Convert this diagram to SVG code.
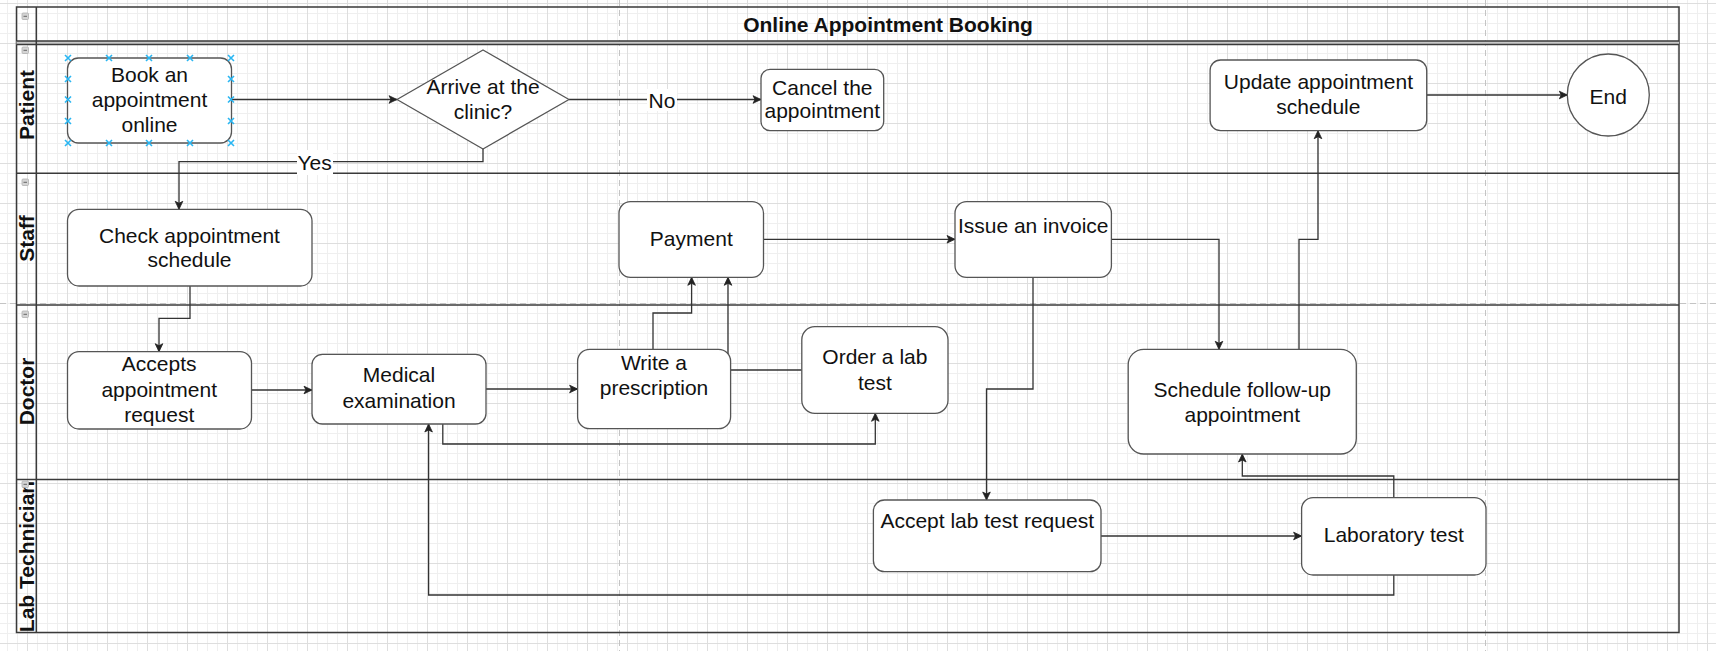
<svg xmlns="http://www.w3.org/2000/svg" width="1716" height="651" viewBox="0 0 1716 651">
  <defs>
    <pattern id="grid" patternUnits="userSpaceOnUse" x="7" y="3" width="40" height="40">
      <path d="M0.5,0V40M10.5,0V40M30.5,0V40M0,10.5H40M0,20.5H40M0,30.5H40" stroke="#efefef" stroke-width="1" fill="none"/>
      <path d="M20.5,0V40M0,0.5H40" stroke="#dedede" stroke-width="1" fill="none"/>
    </pattern>
    <marker id="arr" markerUnits="userSpaceOnUse" markerWidth="10" markerHeight="10" viewBox="0 0 10 10" refX="9" refY="5" orient="auto">
      <path d="M1,1.2 L9,5 L1,8.8 L3,5 Z" fill="#222" stroke="#222" stroke-width="0.8"/>
    </marker>
  </defs>
  <style>
    .node { fill: #ffffff; stroke: #555555; stroke-width: 1.3; }
    .txt { font-family: "Liberation Sans", Arial, sans-serif; font-size: 21px; fill: #111111; text-anchor: middle; }
    .lane { font-family: "Liberation Sans", Arial, sans-serif; font-size: 21px; font-weight: bold; fill: #111111; text-anchor: middle; }
    .title { font-family: "Liberation Sans", Arial, sans-serif; font-size: 21px; font-weight: bold; fill: #111111; text-anchor: middle; }
    .edge { fill: none; stroke: #333333; stroke-width: 1.3; }
    .pool { fill: none; stroke: #3a3a3a; stroke-width: 1.5; }
    .brk { fill: none; stroke: #c4c4c4; stroke-width: 1; stroke-dasharray: 6 4; }
    .icon { fill: #d4d4d4; stroke: #b0b0b0; stroke-width: 0.8; }
    .handle { stroke: #29b6f2; stroke-width: 1.6; fill: none; }
    .lbl { fill: #ffffff; stroke: none; }
  </style>

  <rect x="0" y="0" width="1716" height="651" fill="#ffffff"/>
  <rect x="0" y="0" width="1716" height="651" fill="url(#grid)"/>

  <!-- page breaks -->
  <g id="page-breaks">
    <path class="brk" d="M619.5,0V651M1485.5,0V651M0,303.5H1716"/>
  </g>

  <!-- pool and lanes -->
  <g id="pool">
    <rect class="pool" x="16.5" y="7" width="1662.5" height="625.5"/>
    <rect x="16.5" y="41" width="1662.5" height="3.5" fill="#c8c8c8" stroke="none"/>
    <path class="pool" d="M16.5,41H1679M16.5,44.5H1679"/>
    <path class="pool" d="M36.3,7V632.5"/>
    <text class="title" x="888" y="31.5">Online Appointment Booking</text>
    <rect class="icon" x="22" y="13" width="6.5" height="6.5" rx="1"/>
    <path d="M23.5,16.3H27" stroke="#666" stroke-width="1"/>
  </g>
  <g id="lane-patient">
    <path class="pool" d="M16.5,173.3H1679"/>
    <text class="lane" transform="translate(33.5,105) rotate(-90)">Patient</text>
    <rect class="icon" x="22" y="47" width="6.5" height="6.5" rx="1"/>
    <path d="M23.5,50.3H27" stroke="#666" stroke-width="1"/>
  </g>
  <g id="lane-staff">
    <path class="pool" d="M16.5,305H1679"/>
    <text class="lane" transform="translate(33.5,238.5) rotate(-90)">Staff</text>
    <rect class="icon" x="22" y="179" width="6.5" height="6.5" rx="1"/>
    <path d="M23.5,182.3H27" stroke="#666" stroke-width="1"/>
  </g>
  <g id="lane-doctor">
    <path class="pool" d="M16.5,479.5H1679"/>
    <text class="lane" transform="translate(33.5,391.5) rotate(-90)">Doctor</text>
    <rect class="icon" x="22" y="311" width="6.5" height="6.5" rx="1"/>
    <path d="M23.5,314.3H27" stroke="#666" stroke-width="1"/>
  </g>
  <g id="lane-lab">
    <text class="lane" transform="translate(33.5,556.5) rotate(-90)">Lab Technician</text>
    <rect class="icon" x="22" y="481" width="6.5" height="6.5" rx="1"/>
    <path d="M23.5,484.3H27" stroke="#666" stroke-width="1"/>
  </g>

  <!-- connectors -->
  <g id="connectors">
    <path class="edge" marker-end="url(#arr)" d="M231.5,99.5H397"/>
    <path class="edge" marker-end="url(#arr)" d="M569,99.5H761"/>
    <path class="edge" marker-end="url(#arr)" d="M483,149V161.7H179V209.3"/>
    <path class="edge" marker-end="url(#arr)" d="M190,286V318.3H159V351.7"/>
    <path class="edge" marker-end="url(#arr)" d="M251.4,390H312"/>
    <path class="edge" marker-end="url(#arr)" d="M486,389H577.6"/>
    <path class="edge" marker-end="url(#arr)" d="M653,349.3V313H691.6V277.3"/>
    <path class="edge" marker-end="url(#arr)" d="M801.8,370H728V277.3"/>
    <path class="edge" marker-end="url(#arr)" d="M442.8,424V444H875.3V413.3"/>
    <path class="edge" marker-end="url(#arr)" d="M763.5,239.3H955"/>
    <path class="edge" marker-end="url(#arr)" d="M1033,277.3V389H986.5V500"/>
    <path class="edge" marker-end="url(#arr)" d="M1111.4,239.3H1219V349.3"/>
    <path class="edge" marker-end="url(#arr)" d="M1299,349.3V239.3H1318V130.7"/>
    <path class="edge" marker-end="url(#arr)" d="M1426.7,95H1567.3"/>
    <path class="edge" marker-end="url(#arr)" d="M1101,536H1301.6"/>
    <path class="edge" marker-end="url(#arr)" d="M1393.8,497.7V476H1242.3V454"/>
    <path class="edge" marker-end="url(#arr)" d="M1393.8,575V595H428.6V424"/>
    <rect class="lbl" x="297" y="150" width="36" height="25"/>
    <text class="txt" x="314.6" y="169.5">Yes</text>
    <rect class="lbl" x="647" y="89" width="30" height="22"/>
    <text class="txt" x="662" y="107.5">No</text>
  </g>

  <!-- nodes -->
  <g id="book">
    <rect class="node" x="67.5" y="58" width="164" height="85" rx="11"/>
    <text class="txt" x="149.5" y="81.7">Book an</text>
    <text class="txt" x="149.5" y="106.7">appointment</text>
    <text class="txt" x="149.5" y="131.7">online</text>
    <path class="handle" d="M65,55l6,6m0,-6l-6,6 M106,55l6,6m0,-6l-6,6 M146,55l6,6m0,-6l-6,6 M187,55l6,6m0,-6l-6,6 M228,55l6,6m0,-6l-6,6 M65,140l6,6m0,-6l-6,6 M106,140l6,6m0,-6l-6,6 M146,140l6,6m0,-6l-6,6 M187,140l6,6m0,-6l-6,6 M228,140l6,6m0,-6l-6,6 M65,76l6,6m0,-6l-6,6 M65,96.5l6,6m0,-6l-6,6 M65,118l6,6m0,-6l-6,6 M228,76l6,6m0,-6l-6,6 M228,96.5l6,6m0,-6l-6,6 M228,118l6,6m0,-6l-6,6"/>
  </g>
  <g id="arrive">
    <path class="node" stroke-linejoin="round" d="M483,50 L569,99.5 L483,149 L397,99.5 Z"/>
    <text class="txt" x="483" y="94">Arrive at the</text>
    <text class="txt" x="483" y="118.5">clinic?</text>
  </g>
  <g id="cancel">
    <rect class="node" x="761" y="69.3" width="122.7" height="61.4" rx="9"/>
    <text class="txt" x="822.3" y="94.5">Cancel the</text>
    <text class="txt" x="822.3" y="117.5">appointment</text>
  </g>
  <g id="check">
    <rect class="node" x="67.5" y="209.3" width="244.5" height="76.7" rx="11.5"/>
    <text class="txt" x="189.5" y="243">Check appointment</text>
    <text class="txt" x="189.5" y="267">schedule</text>
  </g>
  <g id="accepts">
    <rect class="node" x="67.5" y="351.7" width="184" height="77.3" rx="11.5"/>
    <text class="txt" x="159.2" y="371">Accepts</text>
    <text class="txt" x="159.2" y="396.5">appointment</text>
    <text class="txt" x="159.2" y="422">request</text>
  </g>
  <g id="medical">
    <rect class="node" x="312" y="354.3" width="174" height="69.7" rx="10.5"/>
    <text class="txt" x="399" y="382">Medical</text>
    <text class="txt" x="399" y="408">examination</text>
  </g>
  <g id="prescription">
    <rect class="node" x="577.6" y="349.3" width="153" height="79.4" rx="12"/>
    <text class="txt" x="654" y="369.5">Write a</text>
    <text class="txt" x="654" y="395">prescription</text>
  </g>
  <g id="order">
    <rect class="node" x="801.8" y="326.7" width="146.2" height="86.6" rx="13"/>
    <text class="txt" x="874.9" y="364">Order a lab</text>
    <text class="txt" x="874.9" y="389.5">test</text>
  </g>
  <g id="payment">
    <rect class="node" x="619" y="201.7" width="144.5" height="75.6" rx="11.5"/>
    <text class="txt" x="691.3" y="245.5">Payment</text>
  </g>
  <g id="invoice">
    <rect class="node" x="955" y="201.7" width="156.4" height="75.6" rx="11.5"/>
    <text class="txt" x="1033.2" y="233">Issue an invoice</text>
  </g>
  <g id="accept-lab">
    <rect class="node" x="873.4" y="500" width="227.6" height="71.7" rx="11"/>
    <text class="txt" x="987.2" y="528">Accept lab test request</text>
  </g>
  <g id="lab-test">
    <rect class="node" x="1301.6" y="497.7" width="184.4" height="77.3" rx="11.5"/>
    <text class="txt" x="1393.8" y="542">Laboratory test</text>
  </g>
  <g id="follow-up">
    <rect class="node" x="1128.2" y="349.3" width="228.1" height="104.7" rx="15.5"/>
    <text class="txt" x="1242.3" y="396.5">Schedule follow-up</text>
    <text class="txt" x="1242.3" y="421.5">appointment</text>
  </g>
  <g id="update">
    <rect class="node" x="1210.1" y="60" width="216.6" height="70.7" rx="10.5"/>
    <text class="txt" x="1318.4" y="88.5">Update appointment</text>
    <text class="txt" x="1318.4" y="114">schedule</text>
  </g>
  <g id="end">
    <circle class="node" cx="1608.3" cy="95" r="41"/>
    <text class="txt" x="1608.3" y="104">End</text>
  </g>
</svg>
